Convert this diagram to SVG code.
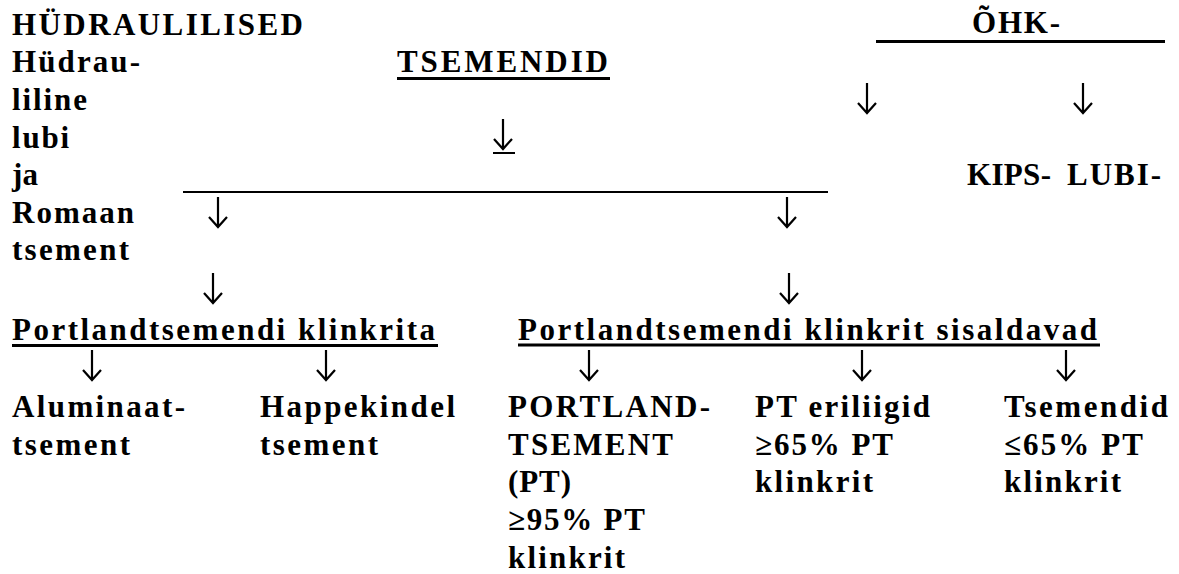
<svg xmlns="http://www.w3.org/2000/svg" width="1179" height="574" viewBox="0 0 1179 574">
<style>
text{font-family:"Liberation Serif","Times New Roman",serif;font-weight:bold;font-size:31px;letter-spacing:3px;fill:#000}
.ul{stroke:#000;stroke-width:3;fill:none}
.ln{stroke:#000;stroke-width:2;fill:none}
.ar{stroke:#000;stroke-width:2.2;fill:none}
</style>
<defs>
<path id="arr" d="M0,0 V30 M-9,20 L0,30 L9,20"/>
</defs>
<rect width="1179" height="574" fill="#fff"/>
<g id="hydraulilised">
<text x="12" y="35" textLength="294" lengthAdjust="spacing">HÜDRAULILISED</text>
</g>
<g id="hydrauliline-lubi">
<text x="12" y="72" textLength="131" lengthAdjust="spacing">Hüdrau-</text>
<text x="12" y="110" textLength="78" lengthAdjust="spacing">liline</text>
<text x="12" y="148" textLength="60" lengthAdjust="spacing">lubi</text>
<text x="12" y="185" textLength="29" lengthAdjust="spacing">ja</text>
<text x="12" y="223" textLength="125" lengthAdjust="spacing">Romaan</text>
<text x="12" y="260" textLength="120" lengthAdjust="spacing">tsement</text>
</g>
<g id="tsemendid">
<text x="397" y="72" textLength="214" lengthAdjust="spacing">TSEMENDID</text>
<line class="ul" x1="397" y1="78.5" x2="610" y2="78.5"/>
</g>
<g id="ohk">
<text x="972" y="33" textLength="91" lengthAdjust="spacing">ÕHK-</text>
<line class="ul" x1="876" y1="41.5" x2="1165" y2="41.5"/>
</g>
<g id="kips"><text x="967" y="185" textLength="87" lengthAdjust="spacing">KIPS-</text></g>
<g id="lubi"><text x="1067" y="185" textLength="97" lengthAdjust="spacing">LUBI-</text></g>
<g id="klinkrita">
<text x="12" y="340" textLength="426" lengthAdjust="spacing">Portlandtsemendi klinkrita</text>
<line class="ul" x1="12" y1="345.5" x2="438" y2="345.5"/>
</g>
<g id="klinkrit-sisaldavad">
<text x="518" y="340" textLength="582" lengthAdjust="spacing">Portlandtsemendi klinkrit sisaldavad</text>
<line class="ul" x1="518" y1="345" x2="1100" y2="345"/>
</g>
<g id="aluminaat">
<text x="12" y="417" textLength="176" lengthAdjust="spacing">Aluminaat-</text>
<text x="12" y="455" textLength="121" lengthAdjust="spacing">tsement</text>
</g>
<g id="happekindel">
<text x="260" y="417" textLength="198" lengthAdjust="spacing">Happekindel</text>
<text x="260" y="455" textLength="121" lengthAdjust="spacing">tsement</text>
</g>
<g id="portlandtsement">
<text x="508" y="417" textLength="205" lengthAdjust="spacing">PORTLAND-</text>
<text x="508" y="455" textLength="168" lengthAdjust="spacing">TSEMENT</text>
<text x="508" y="492" textLength="66" lengthAdjust="spacing">(PT)</text>
<text x="508" y="530" textLength="140" lengthAdjust="spacing">≥95% PT</text>
<text x="508" y="568" textLength="120" lengthAdjust="spacing">klinkrit</text>
</g>
<g id="pt-eriliigid">
<text x="755" y="417" textLength="178" lengthAdjust="spacing">PT eriliigid</text>
<text x="755" y="455" textLength="141" lengthAdjust="spacing">≥65% PT</text>
<text x="755" y="492" textLength="121" lengthAdjust="spacing">klinkrit</text>
</g>
<g id="tsemendid-65">
<text x="1004" y="417" textLength="167" lengthAdjust="spacing">Tsemendid</text>
<text x="1004" y="455" textLength="142" lengthAdjust="spacing">≤65% PT</text>
<text x="1004" y="492" textLength="120" lengthAdjust="spacing">klinkrit</text>
</g>
<g id="connectors">
<use href="#arr" class="ar" x="503" y="119"/>
<line class="ln" x1="493" y1="153" x2="515" y2="153"/>
<line class="ln" x1="183" y1="192" x2="828" y2="192"/>
<use href="#arr" class="ar" x="218" y="197"/>
<use href="#arr" class="ar" x="787" y="197"/>
<use href="#arr" class="ar" x="213" y="273"/>
<use href="#arr" class="ar" x="789" y="273"/>
<use href="#arr" class="ar" x="867" y="83"/>
<use href="#arr" class="ar" x="1083" y="83"/>
<use href="#arr" class="ar" x="92" y="350"/>
<use href="#arr" class="ar" x="326" y="350"/>
<use href="#arr" class="ar" x="589" y="350"/>
<use href="#arr" class="ar" x="862" y="350"/>
<use href="#arr" class="ar" x="1066" y="350"/>
</g>
</svg>
